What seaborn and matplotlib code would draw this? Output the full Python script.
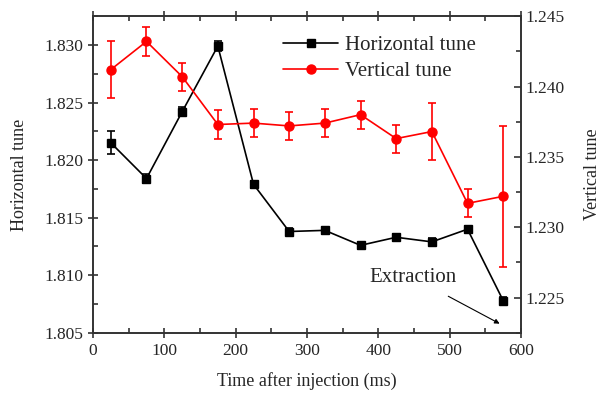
import numpy as np
import pandas as pd
import seaborn as sns
import matplotlib.pyplot as plt
from matplotlib.ticker import MultipleLocator

time_ms = [25, 75, 125, 175, 225, 275, 325, 375, 425, 475, 525, 575]
h_tune = [1.8215, 1.8184, 1.8242, 1.8299, 1.8179, 1.8138, 1.8139, 1.8126, 1.8133, 1.8129, 1.8140, 1.8078]
h_err = [0.0010, 0.0004, 0.0004, 0.0004, 0.0003, 0.0003, 0.0003, 0.0003, 0.0003, 0.0003, 0.0003, 0.0003]
v_tune = [1.2412, 1.2432, 1.2407, 1.2373, 1.2374, 1.2372, 1.2374, 1.2380, 1.2363, 1.2368, 1.2317, 1.2322]
v_err = [0.0020, 0.0010, 0.0010, 0.0010, 0.0010, 0.0010, 0.0010, 0.0010, 0.0010, 0.0020, 0.0010, 0.0050]


def main():
    sns.set_style("ticks")
    plt.rcParams['font.family'] = ['Liberation Serif', 'DejaVu Serif']

    df = pd.DataFrame({"time": time_ms, "h": h_tune, "v": v_tune})

    fig = plt.figure(figsize=(6.05, 3.93), dpi=100)
    ax = fig.add_axes([0.1537, 0.153, 0.7075, 0.806])
    ax2 = ax.twinx()

    ax.errorbar(time_ms, h_tune, yerr=h_err, fmt='none', ecolor='black',
                elinewidth=1.2, capsize=3, capthick=1.2, zorder=3)
    sns.lineplot(data=df, x="time", y="h", ax=ax, color="black", marker="s",
                 markersize=5.5, markeredgewidth=1, markeredgecolor="black",
                 linewidth=1.2, label="Horizontal tune", legend=False, zorder=4)

    ax2.errorbar(time_ms, v_tune, yerr=v_err, fmt='none', ecolor='red',
                 elinewidth=1.2, capsize=3, capthick=1.2, zorder=3)
    sns.lineplot(data=df, x="time", y="v", ax=ax2, color="red", marker="o",
                 markersize=6.5, markeredgewidth=1, markeredgecolor="red",
                 linewidth=1.2, label="Vertical tune", legend=False, zorder=4)

    ax.set_xlim(0, 600)
    ax.set_ylim(1.805, 1.8325)
    ax2.set_ylim(1.2225, 1.245)

    ax.xaxis.set_major_locator(MultipleLocator(100))
    ax.xaxis.set_minor_locator(MultipleLocator(50))
    ax.yaxis.set_major_locator(MultipleLocator(0.005))
    ax.yaxis.set_minor_locator(MultipleLocator(0.0025))
    ax2.yaxis.set_major_locator(MultipleLocator(0.005))
    ax2.yaxis.set_minor_locator(MultipleLocator(0.0025))
    ax.yaxis.set_major_formatter(plt.FormatStrFormatter('%.3f'))
    ax2.yaxis.set_major_formatter(plt.FormatStrFormatter('%.3f'))

    ax.tick_params(which='both', top=True, labelsize=12.5, width=1.2,
                   color='#333333')
    ax.tick_params(which='major', length=7, direction='inout')
    ax.tick_params(which='minor', length=3.5, direction='in')
    ax2.tick_params(which='both', labelsize=12.5, width=1.2, direction='in',
                    color='#333333')
    ax2.tick_params(which='major', length=5)
    ax2.tick_params(which='minor', length=3.5)
    for a in (ax, ax2):
        for s in a.spines.values():
            s.set_visible(True)
            s.set_linewidth(1.2)
            s.set_color('#333333')

    ax.set_xlabel("Time after injection (ms)", fontsize=13, labelpad=10)
    ax.set_ylabel("Horizontal tune", fontsize=13, labelpad=12)
    ax2.set_ylabel("Vertical tune", fontsize=13, labelpad=14)

    h1, l1 = ax.get_legend_handles_labels()
    h2, l2 = ax2.get_legend_handles_labels()
    ax.legend(h1 + h2, l1 + l2, loc='upper left', bbox_to_anchor=(0.425, 0.965),
              frameon=False, fontsize=15, handlelength=2.65, handletextpad=0.3,
              borderaxespad=0, labelspacing=0.3)

    ax.annotate("Extraction", xy=(570, 1.8058), xytext=(449, 1.8098),
                ha='center', va='center', fontsize=15,
                arrowprops=dict(arrowstyle='-|>', color='black', lw=0.8,
                                shrinkA=9, shrinkB=0, mutation_scale=7))

    fig.savefig("out.png", dpi=100)
    plt.close(fig)


if __name__ == '__main__':
    main()
